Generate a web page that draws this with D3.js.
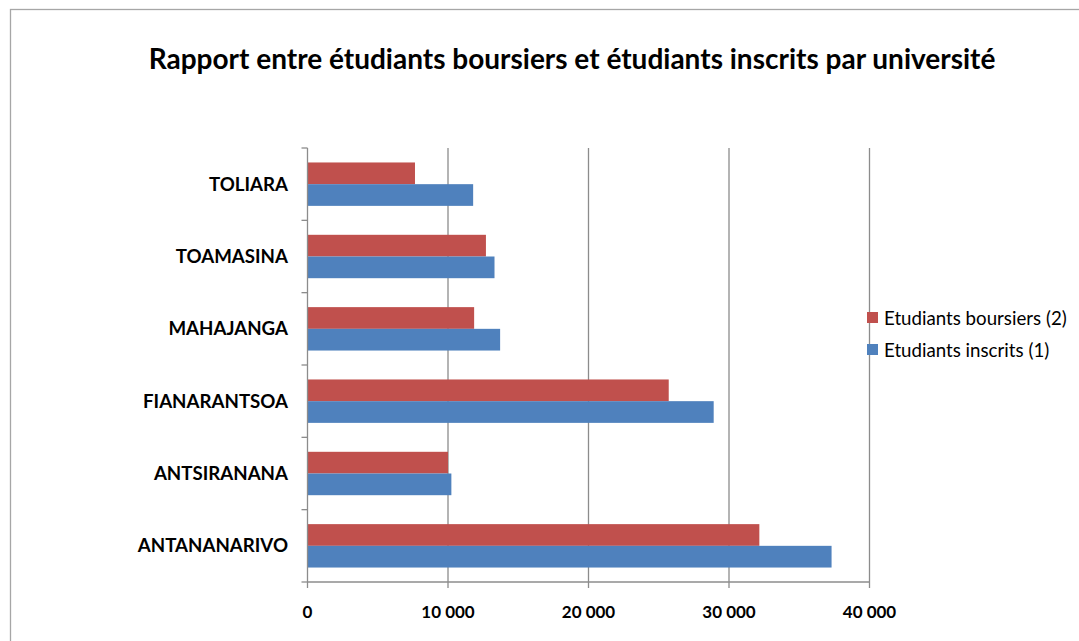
<!DOCTYPE html>
<html>
<head>
<meta charset="utf-8">
<script src="https://cdnjs.cloudflare.com/ajax/libs/d3/7.8.5/d3.min.js"></script>
<style>
  body { margin: 0; background: #fff; }
  text { font-family: Lato, "Open Sans", sans-serif; fill: #000; }
</style>
</head>
<body>
<script>
// data
var universites = ["ANTANANARIVO", "ANTSIRANANA", "FIANARANTSOA", "MAHAJANGA", "TOAMASINA", "TOLIARA"];
var inscrits = [37300, 10240, 28910, 13710, 13310, 11790];
var boursiers = [32160, 10000, 25710, 11860, 12700, 7650];
var xTicks = [0, 10000, 20000, 30000, 40000];
var seriesNames = ["Etudiants boursiers (2)", "Etudiants inscrits (1)"];
var colors = { boursiers: "#c0504d", inscrits: "#4f81bd" };

var W = 1079, H = 641;
var margin = { left: 307.5, right: W - 869.5, top: 148, bottom: H - 582 };

var svg = d3.select("body").append("svg").attr("width", W).attr("height", H);

// chart border (only top and left visible)
svg.append("rect")
  .attr("x", 10.5).attr("y", 9.5)
  .attr("width", W).attr("height", H)
  .attr("fill", "none").attr("stroke", "#a6a6a6").attr("stroke-width", 1.3);

svg.append("text")
  .attr("x", 572).attr("y", 69)
  .attr("text-anchor", "middle")
  .attr("font-weight", "bold").attr("font-size", 28)
  .text("Rapport entre étudiants boursiers et étudiants inscrits par université");

var x = d3.scaleLinear().domain([0, 40000]).range([margin.left, W - margin.right]);
// top-to-bottom order reversed (Excel style)
var y = d3.scaleBand().domain(universites.slice().reverse())
  .range([margin.top, H - margin.bottom]).paddingInner(0.4).paddingOuter(0.2);
var step = y.step();

// gridlines
svg.append("g").selectAll("line").data(xTicks.slice(1)).enter().append("line")
  .attr("x1", function(d) { return x(d); }).attr("x2", function(d) { return x(d); })
  .attr("y1", margin.top).attr("y2", H - margin.bottom)
  .attr("stroke", "#8c8c8c").attr("stroke-width", 1.3);

// bars
var rows = universites.map(function(u, i) { return { u: u, b: boursiers[i], n: inscrits[i] }; });
var bh = y.bandwidth() / 2;
var g = svg.append("g");
g.selectAll("rect.b").data(rows).enter().append("rect")
  .attr("x", x(0)).attr("y", function(d) { return y(d.u); })
  .attr("width", function(d) { return x(d.b) - x(0); }).attr("height", bh)
  .attr("fill", colors.boursiers);
g.selectAll("rect.n").data(rows).enter().append("rect")
  .attr("x", x(0)).attr("y", function(d) { return y(d.u) + bh; })
  .attr("width", function(d) { return x(d.n) - x(0); }).attr("height", bh)
  .attr("fill", colors.inscrits);

// y axis
var yAxis = svg.append("g");
yAxis.append("line").attr("x1", x(0)).attr("x2", x(0))
  .attr("y1", margin.top).attr("y2", H - margin.bottom)
  .attr("stroke", "#8c8c8c").attr("stroke-width", 1.3);
var yTickPos = d3.range(universites.length + 1).map(function(i) { return margin.top + i * step; });
yAxis.selectAll("line.t").data(yTickPos).enter().append("line")
  .attr("x1", x(0) - 6).attr("x2", x(0))
  .attr("y1", function(d) { return d; }).attr("y2", function(d) { return d; })
  .attr("stroke", "#8c8c8c").attr("stroke-width", 1.3);
yAxis.selectAll("text").data(universites).enter().append("text")
  .attr("x", 288).attr("y", function(d) { return y(d) + y.bandwidth() / 2; })
  .attr("dy", "0.35em").attr("text-anchor", "end")
  .attr("font-weight", "bold").attr("font-size", 18.7)
  .text(function(d) { return d; });

// x axis
var xAxis = svg.append("g");
xAxis.append("line").attr("x1", x(0)).attr("x2", x(40000))
  .attr("y1", H - margin.bottom).attr("y2", H - margin.bottom)
  .attr("stroke", "#8c8c8c").attr("stroke-width", 1.3);
xAxis.selectAll("line.t").data(xTicks).enter().append("line")
  .attr("x1", function(d) { return x(d); }).attr("x2", function(d) { return x(d); })
  .attr("y1", H - margin.bottom).attr("y2", H - margin.bottom + 6)
  .attr("stroke", "#8c8c8c").attr("stroke-width", 1.3);
var fmt = function(d) { return d3.format(",")(d).replace(/,/g, " "); };
xAxis.selectAll("text").data(xTicks).enter().append("text")
  .attr("x", function(d) { return x(d); }).attr("y", 618)
  .attr("text-anchor", "middle")
  .attr("font-weight", "bold").attr("font-size", 17)
  .text(fmt);

// legend
var legend = svg.append("g");
var legItems = [
  { name: seriesNames[0], color: colors.boursiers, y: 318 },
  { name: seriesNames[1], color: colors.inscrits, y: 350 }
];
legend.selectAll("rect").data(legItems).enter().append("rect")
  .attr("x", 867).attr("y", function(d) { return d.y - 6; })
  .attr("width", 11).attr("height", 11)
  .attr("fill", function(d) { return d.color; });
legend.selectAll("text").data(legItems).enter().append("text")
  .attr("x", 884).attr("y", function(d) { return d.y; })
  .attr("dy", "0.35em").attr("font-size", 18.7)
  .text(function(d) { return d.name; });
</script>
</body>
</html>
